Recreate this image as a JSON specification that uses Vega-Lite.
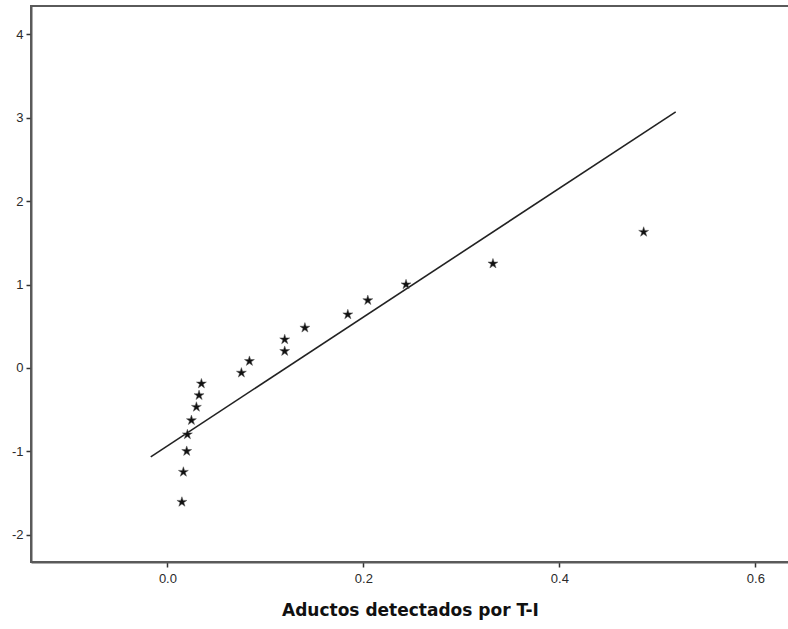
{
  "$schema": "https://vega.github.io/schema/vega-lite/v6.json",
  "width": 758,
  "height": 556,
  "autosize": {"type": "none"},
  "padding": {"left": 31, "top": 6, "right": 0, "bottom": 67},
  "background": "white",
  "config": {
    "view": {"stroke": "#5a5a5a", "strokeWidth": 2},
    "axis": {
      "grid": false,
      "domainColor": "#5a5a5a",
      "domainWidth": 2,
      "tickColor": "#333333",
      "tickWidth": 1.5,
      "tickSize": 5,
      "labelFont": "Liberation Sans",
      "labelFontSize": 13,
      "labelColor": "#2a2a2a",
      "titleFont": "DejaVu Sans"
    }
  },
  "datasets": {
    "pts": [
      {"x": 0.0148, "y": -1.61},
      {"x": 0.0163, "y": -1.25},
      {"x": 0.0197, "y": -1.0},
      {"x": 0.0204, "y": -0.80},
      {"x": 0.0245, "y": -0.63},
      {"x": 0.0296, "y": -0.47},
      {"x": 0.0323, "y": -0.33},
      {"x": 0.0347, "y": -0.19},
      {"x": 0.0755, "y": -0.06},
      {"x": 0.0837, "y": 0.08},
      {"x": 0.1197, "y": 0.20},
      {"x": 0.1197, "y": 0.34},
      {"x": 0.1403, "y": 0.48},
      {"x": 0.1841, "y": 0.64},
      {"x": 0.2045, "y": 0.81},
      {"x": 0.2435, "y": 1.0},
      {"x": 0.3322, "y": 1.25},
      {"x": 0.4860, "y": 1.63}
    ],
    "ref": [
      {"x": -0.017, "y": -1.068},
      {"x": 0.5187, "y": 3.072}
    ]
  },
  "encoding": {},
  "layer": [
    {
      "data": {"name": "ref"},
      "mark": {"type": "line", "color": "#222222", "strokeWidth": 1.6},
      "encoding": {
        "x": {"field": "x", "type": "quantitative"},
        "y": {"field": "y", "type": "quantitative"}
      }
    },
    {
      "data": {"name": "pts"},
      "mark": {
        "type": "point",
        "shape": "M0,-1L0.223,-0.307L0.951,-0.309L0.361,0.117L0.588,0.809L0,0.38L-0.588,0.809L-0.361,0.117L-0.951,-0.309L-0.223,-0.307Z",
        "filled": true,
        "color": "#111111",
        "stroke": "#555555",
        "strokeWidth": 0.5,
        "size": 110,
        "opacity": 1
      },
      "encoding": {
        "x": {
          "field": "x",
          "type": "quantitative",
          "scale": {"domain": [-0.1392, 0.6343], "nice": false, "zero": false},
          "axis": {
            "values": [0.0, 0.2, 0.4, 0.6],
            "format": ".1f",
            "title": "Aductos detectados por T-I",
            "titleFontSize": 17,
            "titleFontWeight": "bold",
            "titleColor": "#111111",
            "titlePadding": 17,
            "labelPadding": 5
          }
        },
        "y": {
          "field": "y",
          "type": "quantitative",
          "scale": {"domain": [-2.33, 4.342], "nice": false, "zero": false},
          "axis": {
            "values": [-2, -1, 0, 1, 2, 3, 4],
            "labelExpr": "'' + datum.value",
            "title": null,
            "labelPadding": 3
          }
        }
      }
    }
  ]
}
